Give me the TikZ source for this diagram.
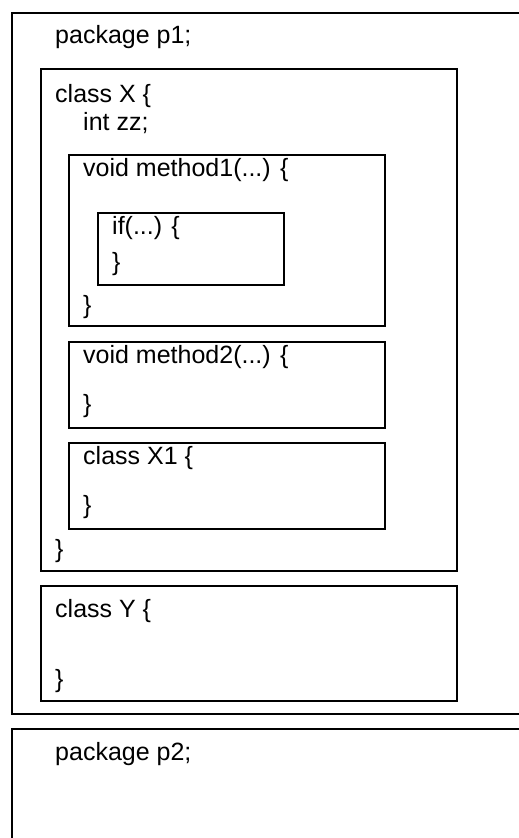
\documentclass[tikz,border=0pt]{standalone}
\usepackage{fontspec}
\setmainfont{Liberation Sans}
\usepackage{tikz}

\tikzset{
  blockbox/.style={draw=black, line width=1.6pt, anchor=north west, inner sep=0pt},
  codeline/.style={anchor=base west, inner sep=0pt, font=\fontsize{25}{29}\selectfont}
}

\begin{document}
\begin{tikzpicture}[x=1pt, y=-1pt]
        \useasboundingbox (0,0) rectangle (519,838);
        \node[blockbox, minimum width=514pt, minimum height=701pt] (pkgA) at (11,12) {};
        \node[blockbox, minimum width=514pt, minimum height=120pt] (pkgB) at (11,728) {};
        \node[blockbox, minimum width=416pt, minimum height=502pt] (clsX) at (40,68) {};
        \node[blockbox, minimum width=316pt, minimum height=171pt] (methA) at (68,154) {};
        \node[blockbox, minimum width=186pt, minimum height=72pt] (ifblk) at (97,212) {};
        \node[blockbox, minimum width=316pt, minimum height=86pt] (methB) at (68,341) {};
        \node[blockbox, minimum width=316pt, minimum height=86pt] (clsXa) at (68,442) {};
        \node[blockbox, minimum width=416pt, minimum height=115pt] (clsY) at (40,585) {};

        \node[codeline] (pkgAhead) at (55,43) {package p1;};
        \node[codeline] (clsXhead) at (55,102) {class X \{};
        \node[codeline] (fieldzz) at (83,130) {int zz;};
        \node[codeline] (methAhead) at (83,176) {void method1(...) \{};
        \node[codeline] (ifhead) at (112,234) {if(...) \{};
        \node[codeline] (iftail) at (112,270) {\}};
        \node[codeline] (methAtail) at (83,313) {\}};
        \node[codeline] (methBhead) at (83,363) {void method2(...) \{};
        \node[codeline] (methBtail) at (83,412) {\}};
        \node[codeline] (clsXahead) at (83,464) {class X1 \{};
        \node[codeline] (clsXatail) at (83,513) {\}};
        \node[codeline] (clsXtail) at (55,557) {\}};
        \node[codeline] (clsYhead) at (55,617) {class Y \{};
        \node[codeline] (clsYtail) at (55,687) {\}};
        \node[codeline] (pkgBhead) at (55,760) {package p2;};
    \end{tikzpicture}
\end{document}
